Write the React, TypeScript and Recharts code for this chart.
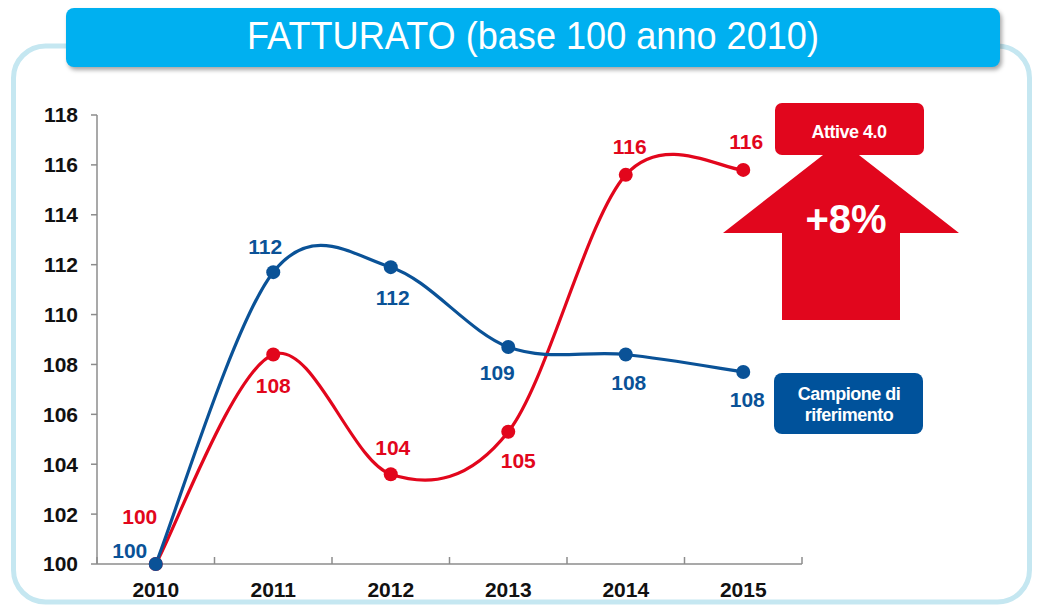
import React from 'react';
import { LineChart, Line, XAxis, YAxis, LabelList } from 'recharts';

const YEARS = ['2010', '2011', '2012', '2013', '2014', '2015'];
const CAMPIONE = [100, 111.7, 111.9, 108.7, 108.4, 107.7];
const ATTIVE = [100, 108.4, 103.6, 105.3, 115.6, 115.8];
const Y_TICKS = [100, 102, 104, 106, 108, 110, 112, 114, 116, 118];

// label offsets from each point (layout only)
const BLUE_LABEL_OFFSETS = [[-26, -14], [-8, -26], [2, 30], [-11, 26], [3, 28], [4, 28]];
const RED_LABEL_OFFSETS = [[-16, -48], [0, 31], [2, -27], [10, 29], [4, -28], [3, -28]];

const BLUE = '#0A5297';
const RED = '#E2061C';
const AXIS = '#8C8C8C';
const FONT = '"Liberation Sans", Arial, sans-serif';

const rows = YEARS.map((year, i) => ({ x: i + 0.5, year, campione: CAMPIONE[i], attive: ATTIVE[i] }));
const xTicks = Array.from({ length: 13 }, (_, i) => i / 2);

// Excel-style smoothing (Catmull-Rom as cubic bezier)
const excelCurve = (context: any) => {
  let pts: number[][] = [];
  return {
    areaStart() {},
    areaEnd() {},
    lineStart() { pts = []; },
    point(x: number, y: number) { pts.push([+x, +y]); },
    lineEnd() {
      if (!pts.length) return;
      context.moveTo(pts[0][0], pts[0][1]);
      for (let i = 0; i < pts.length - 1; i++) {
        const p0 = pts[i - 1] || pts[i];
        const p1 = pts[i];
        const p2 = pts[i + 1];
        const p3 = pts[i + 2] || p2;
        context.bezierCurveTo(
          p1[0] + (p2[0] - p0[0]) / 6, p1[1] + (p2[1] - p0[1]) / 6,
          p2[0] - (p3[0] - p1[0]) / 6, p2[1] - (p3[1] - p1[1]) / 6,
          p2[0], p2[1]
        );
      }
    },
  };
};

const XTick = (props: any) => {
  const { x, y, payload } = props;
  const v = payload.value;
  if (Number.isInteger(v)) {
    return <line x1={x} x2={x} y1={y} y2={y - 7} stroke={AXIS} strokeWidth={1.5} />;
  }
  return (
    <text x={x} y={y + 33} textAnchor="middle" fontFamily={FONT} fontWeight="bold" fontSize={21} fill="#111">
      {YEARS[Math.floor(v)]}
    </text>
  );
};

const makeLabel = (offsets: number[][], color: string) => (props: any) => {
  const { x, y, value, index } = props;
  const [dx, dy] = offsets[index] || [0, -20];
  return (
    <text x={x + dx} y={y + dy} textAnchor="middle" dominantBaseline="central"
      fontFamily={FONT} fontWeight="bold" fontSize={21} fill={color}>
      {Math.round(value)}
    </text>
  );
};

export default function App() {
  return (
    <div style={{ position: 'absolute', left: 0, top: 0, width: 1037, height: 609, background: '#fff', fontFamily: FONT }}>
      <svg width={1037} height={609} style={{ position: 'absolute', left: 0, top: 0 }}>
        <rect x={13.5} y={46} width={1016} height={556} rx={32} fill="#fff" stroke="#C5E7F1" strokeWidth={5} />
      </svg>

      <div style={{ position: 'absolute', left: 0, top: 0 }}>
        <LineChart width={1037} height={609} data={rows} margin={{ top: 115, right: 235, bottom: 15, left: 37 }}>
          <XAxis dataKey="x" type="number" domain={[0, 6]} ticks={xTicks} interval={0}
            axisLine={{ stroke: AXIS, strokeWidth: 1.5 }} tickLine={false} tickSize={0} tickMargin={0}
            height={30} tick={<XTick />} />
          <YAxis type="number" domain={[100, 118]} ticks={Y_TICKS} interval={0} width={60}
            axisLine={{ stroke: AXIS, strokeWidth: 1.5 }} tickLine={{ stroke: AXIS, strokeWidth: 1.5 }}
            tickSize={6} tickMargin={13}
            tick={{ fill: '#111', fontSize: 21, fontWeight: 'bold', fontFamily: FONT }} />
          <Line dataKey="attive" type={excelCurve as any} stroke={RED} strokeWidth={3.2}
            dot={{ r: 7, fill: RED, stroke: RED, strokeWidth: 0 }} activeDot={false} isAnimationActive={false}>
            <LabelList dataKey="attive" content={makeLabel(RED_LABEL_OFFSETS, RED)} />
          </Line>
          <Line dataKey="campione" type={excelCurve as any} stroke={BLUE} strokeWidth={3.2}
            dot={{ r: 7, fill: BLUE, stroke: BLUE, strokeWidth: 0 }} activeDot={false} isAnimationActive={false}>
            <LabelList dataKey="campione" content={makeLabel(BLUE_LABEL_OFFSETS, BLUE)} />
          </Line>
        </LineChart>
      </div>

      <div style={{
        position: 'absolute', left: 66, top: 8, width: 934, height: 59, background: '#00B0F0',
        borderRadius: 8, boxShadow: '2px 3px 4px rgba(0,0,0,0.35)', color: '#fff', fontSize: 38,
        display: 'flex', alignItems: 'center', justifyContent: 'center', fontFamily: FONT,
      }}>
        <span style={{ display: 'inline-block', transform: 'scaleX(0.95)', whiteSpace: 'nowrap', marginTop: -2 }}>
          FATTURATO (base 100 anno 2010)
        </span>
      </div>

      <svg width={1037} height={609} style={{ position: 'absolute', left: 0, top: 0 }}>
        <polygon points="841,141 959,233 900,233 900,320 782,320 782,233 723,233" fill="#E1061D" />
        <rect x={775} y={103} width={149} height={52} rx={7} fill="#E1061D" />
        <text x={849} y={138} textAnchor="middle" fill="#fff" fontFamily={FONT} fontWeight="bold" fontSize={18} letterSpacing={-0.5}>Attive 4.0</text>
        <text x={846} y={233} textAnchor="middle" fill="#fff" fontFamily={FONT} fontWeight="bold" fontSize={40}>+8%</text>
        <rect x={774} y={373} width={149} height={61} rx={8} fill="#00529B" />
        <text x={849} y={400} textAnchor="middle" fill="#fff" fontFamily={FONT} fontWeight="bold" fontSize={18} letterSpacing={-0.5}>Campione di</text>
        <text x={849} y={421} textAnchor="middle" fill="#fff" fontFamily={FONT} fontWeight="bold" fontSize={18} letterSpacing={-0.5}>riferimento</text>
      </svg>
    </div>
  );
}
